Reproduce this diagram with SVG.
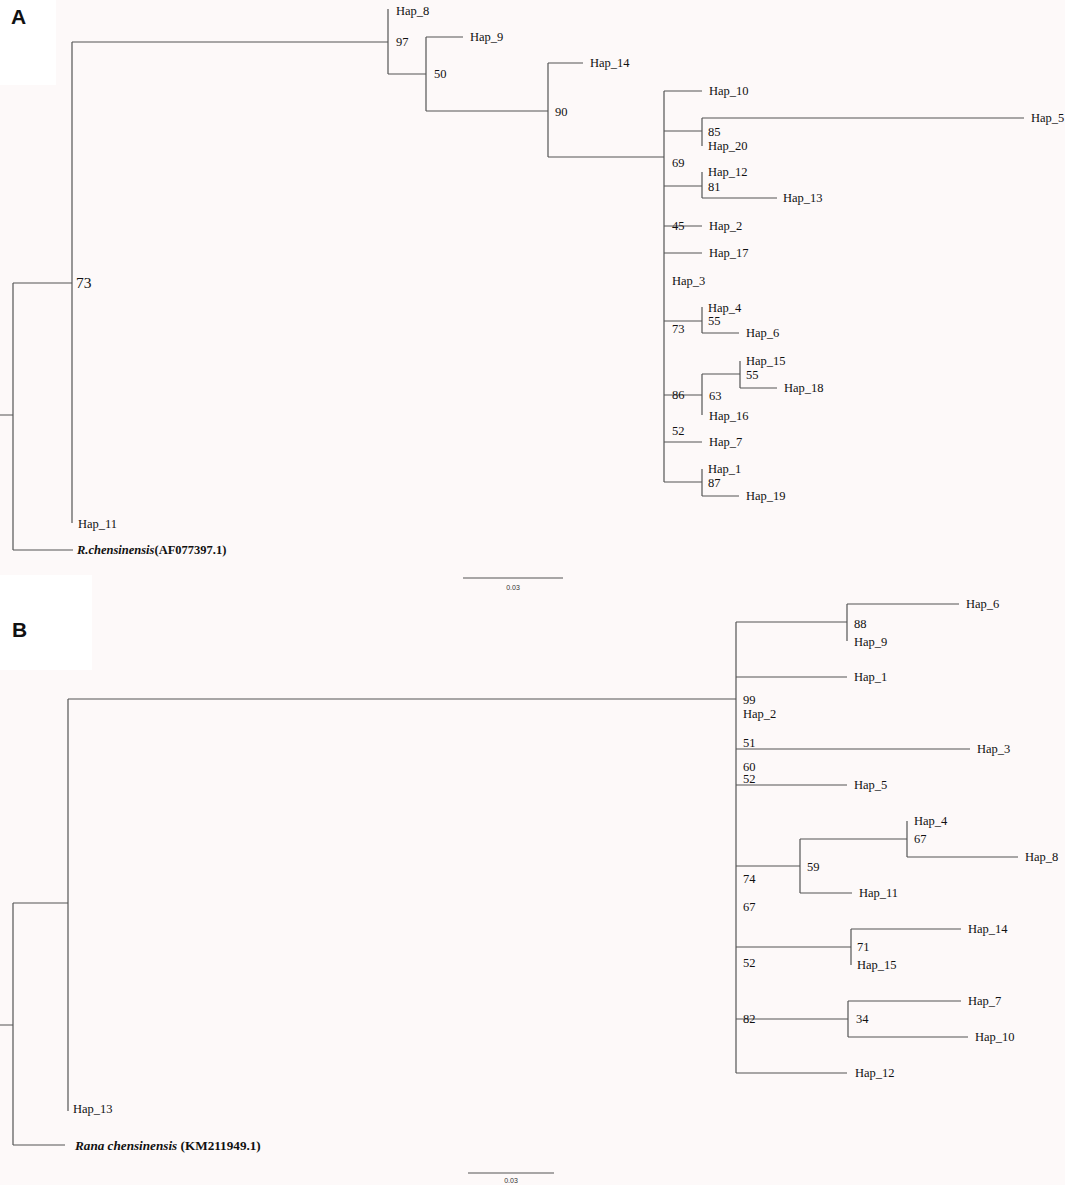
<svg xmlns="http://www.w3.org/2000/svg" width="1065" height="1185" viewBox="0 0 1065 1185">
<style>
.br{fill:none;stroke:#555;stroke-width:1.2}
text{font-family:"Liberation Serif","Times New Roman",serif;font-size:12.5px;fill:#111}
.pl{font-family:"Liberation Sans",Arial,sans-serif;font-weight:bold;font-size:21px}
.sc{font-family:"Liberation Sans",Arial,sans-serif;font-size:7px;fill:#333}
.og{font-weight:bold}
</style>
<rect x="0" y="0" width="1065" height="1185" fill="#fdf9f9"/>
<rect x="0" y="0" width="56" height="85" fill="#ffffff"/>
<rect x="0" y="575" width="92" height="95" fill="#ffffff"/>
<text class="pl" x="11" y="24">A</text>
<text class="pl" x="12" y="637">B</text>

<g id="connectors">
<path class="br" d="M0 415H13 M13 283V550 M13 283H72 M13 550H73 M72 42V523 M72 42H388 M388 9V74 M388 74H426 M426 37V111 M426 37H463 M426 111H548 M548 63V157 M548 63H583 M548 157H664 M664 91V482 M664 91H702 M664 131H702 M702 118V146 M702 118H1024 M664 186H702 M702 172V198 M702 198H777 M664 226H702 M664 253H702 M664 321H702 M702 307V333 M702 333H739 M664 395H702 M702 374V415 M702 374H740 M740 361V388 M740 388H777 M664 442H702 M664 482H702 M702 469V496 M702 496H739"/>
<path class="br" d="M463 578H563"/>
<path class="br" d="M0 1025H13 M13 903V1145 M13 903H68 M13 1145H65 M68 699V1111 M68 699H736 M736 622V1073 M736 622H847 M847 604V641 M847 604H959 M736 677H847 M736 749H970 M736 785H847 M736 866H800 M800 839V893 M800 839H907 M907 821V857 M907 857H1018 M800 893H852 M736 947H851 M851 929V965 M851 929H961 M736 1019H848 M848 1001V1037 M848 1001H961 M848 1037H968 M736 1073H847"/>
<path class="br" d="M468 1173H554"/>
</g>

<g id="treeA">
<g id="A_Hap_8"><text x="396" y="15">Hap_8</text></g>
<g id="A_b97"><text x="396" y="46">97</text></g>
<g id="A_Hap_9"><text x="470" y="41">Hap_9</text></g>
<g id="A_b50"><text x="434" y="78">50</text></g>
<g id="A_Hap_14"><text x="590" y="67">Hap_14</text></g>
<g id="A_b90"><text x="555" y="116">90</text></g>
<g id="A_Hap_10"><text x="709" y="95">Hap_10</text></g>
<g id="A_Hap_5"><text x="1031" y="122">Hap_5</text></g>
<g id="A_b85"><text x="708" y="136">85</text></g>
<g id="A_Hap_20"><text x="708" y="150">Hap_20</text></g>
<g id="A_b69"><text x="672" y="167">69</text></g>
<g id="A_Hap_12"><text x="708" y="176">Hap_12</text></g>
<g id="A_b81"><text x="708" y="191">81</text></g>
<g id="A_Hap_13"><text x="783" y="202">Hap_13</text></g>
<g id="A_b45"><text x="672" y="230">45</text></g>
<g id="A_Hap_2"><text x="709" y="230">Hap_2</text></g>
<g id="A_Hap_17"><text x="709" y="257">Hap_17</text></g>
<g id="A_Hap_3"><text x="672" y="285">Hap_3</text></g>
<g id="A_Hap_4"><text x="708" y="312">Hap_4</text></g>
<g id="A_b55a"><text x="708" y="325">55</text></g>
<g id="A_b73"><text x="672" y="333">73</text></g>
<g id="A_Hap_6"><text x="746" y="337">Hap_6</text></g>
<g id="A_Hap_15"><text x="746" y="365">Hap_15</text></g>
<g id="A_b55b"><text x="746" y="379">55</text></g>
<g id="A_Hap_18"><text x="784" y="392">Hap_18</text></g>
<g id="A_b86"><text x="672" y="399">86</text></g>
<g id="A_b63"><text x="709" y="400">63</text></g>
<g id="A_Hap_16"><text x="709" y="420">Hap_16</text></g>
<g id="A_b52"><text x="672" y="435">52</text></g>
<g id="A_Hap_7"><text x="709" y="446">Hap_7</text></g>
<g id="A_Hap_1"><text x="708" y="473">Hap_1</text></g>
<g id="A_b87"><text x="708" y="487">87</text></g>
<g id="A_Hap_19"><text x="746" y="500">Hap_19</text></g>
<g id="A_root73"><text x="76" y="288" style="font-size:15.5px">73</text></g>
<g id="A_Hap_11"><text x="78" y="528">Hap_11</text></g>
<g id="A_outgroup"><text x="77" y="554" class="og"><tspan font-style="italic">R.chensinensis</tspan>(AF077397.1)</text></g>
<g id="A_scale"><text class="sc" x="513" y="589.5" text-anchor="middle">0.03</text></g>
</g>

<g id="treeB">
<g id="B_Hap_6"><text x="966" y="608">Hap_6</text></g>
<g id="B_b88"><text x="854" y="628">88</text></g>
<g id="B_Hap_9"><text x="854" y="646">Hap_9</text></g>
<g id="B_Hap_1"><text x="854" y="681">Hap_1</text></g>
<g id="B_b99"><text x="743" y="704">99</text></g>
<g id="B_Hap_2"><text x="743" y="718">Hap_2</text></g>
<g id="B_b51"><text x="743" y="747">51</text></g>
<g id="B_Hap_3"><text x="977" y="753">Hap_3</text></g>
<g id="B_b60"><text x="743" y="771">60</text></g>
<g id="B_b52a"><text x="743" y="783">52</text></g>
<g id="B_Hap_5"><text x="854" y="789">Hap_5</text></g>
<g id="B_Hap_4"><text x="914" y="825">Hap_4</text></g>
<g id="B_b67a"><text x="914" y="843">67</text></g>
<g id="B_Hap_8"><text x="1025" y="861">Hap_8</text></g>
<g id="B_b59"><text x="807" y="871">59</text></g>
<g id="B_b74"><text x="743" y="883">74</text></g>
<g id="B_Hap_11"><text x="859" y="897">Hap_11</text></g>
<g id="B_b67b"><text x="743" y="911">67</text></g>
<g id="B_Hap_14"><text x="968" y="933">Hap_14</text></g>
<g id="B_b71"><text x="857" y="951">71</text></g>
<g id="B_b52b"><text x="743" y="967">52</text></g>
<g id="B_Hap_15"><text x="857" y="969">Hap_15</text></g>
<g id="B_Hap_7"><text x="968" y="1005">Hap_7</text></g>
<g id="B_b82"><text x="743" y="1023">82</text></g>
<g id="B_b34"><text x="856" y="1023">34</text></g>
<g id="B_Hap_10"><text x="975" y="1041">Hap_10</text></g>
<g id="B_Hap_12"><text x="855" y="1077">Hap_12</text></g>
<g id="B_Hap_13"><text x="73" y="1113">Hap_13</text></g>
<g id="B_outgroup"><text x="75" y="1150" class="og" style="font-size:13.2px"><tspan font-style="italic">Rana chensinensis</tspan> (KM211949.1)</text></g>
<g id="B_scale"><text class="sc" x="511" y="1182.5" text-anchor="middle">0.03</text></g>
</g>
</svg>
